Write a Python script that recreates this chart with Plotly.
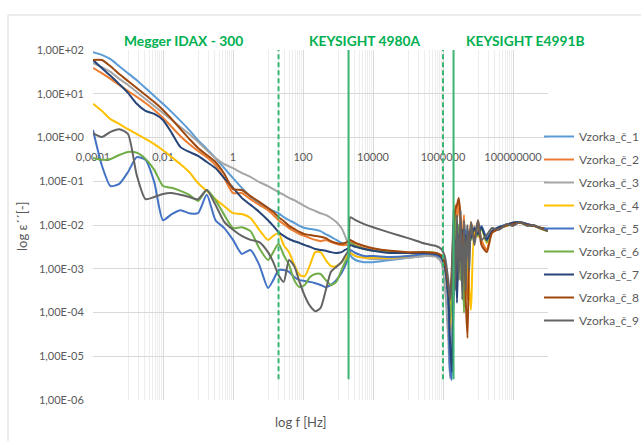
import numpy as np
import plotly.graph_objects as go

lg_freq = [-4, -3.75, -3.5, -3.25, -3, -2.75, -2.5, -2.25, -2, -1.75, -1.5, -1.25, -1, -0.75,
           -0.5, -0.25, 0, 0.25, 0.5, 0.75, 1, 1.15, 1.3,
           1.45, 1.6, 1.75, 1.9, 2.05, 2.2, 2.35, 2.5, 2.65, 2.8, 2.95, 3.1, 3.2, 3.3,
           3.35, 3.5, 3.75, 4, 4.5, 5, 5.5, 5.8, 5.95, 6.05, 6.15,
           6.2, 6.25, 6.3, 6.35, 6.4, 6.45, 6.5, 6.55, 6.6, 6.65, 6.7, 6.75, 6.8, 6.9, 7.0, 7.1,
           7.25, 7.4, 7.6, 7.8, 8.0, 8.2, 8.4, 8.6, 8.8, 9.0]

series_names = ["Vzorka_č_1", "Vzorka_č_2", "Vzorka_č_3", "Vzorka_č_4", "Vzorka_č_5",
                "Vzorka_č_6", "Vzorka_č_7", "Vzorka_č_8", "Vzorka_č_9"]
series_colors = ["#5B9BD5", "#ED7D31", "#A5A5A5", "#FFC000", "#4472C4",
                 "#70AD47", "#264478", "#9E480E", "#636363"]

# log10 of eps'', one list per sample
lg_eps_1 = [1.95, 1.89, 1.79, 1.63, 1.47, 1.31, 1.13, 0.95, 0.77, 0.58, 0.38, 0.17, -0.06, -0.26,
            -0.47, -0.70, -0.93, -1.15, -1.36, -1.50, -1.61, -1.68, -1.73,
            -1.82, -1.89, -1.95, -2.02, -2.07, -2.09, -2.11, -2.14, -2.21, -2.27, -2.34, -2.41, -2.43, -2.48,
            -2.69, -2.80, -2.85, -2.85, -2.80, -2.75, -2.71, -2.71, -2.78, -2.98, -3.71,
            -4.40, -3.71, -2.57, -2.00, -2.46, -2.11, -2.57, -2.23, -2.53, -2.16, -2.39, -2.11, -2.25, -2.07,
            -2.21, -2.05, -2.30, -2.14, -2.05, -2.00, -1.95, -1.93, -1.98, -2.02, -2.07, -2.11]
lg_eps_2 = [1.59, 1.47, 1.34, 1.20, 1.06, 0.93, 0.79, 0.63, 0.45, 0.24, 0.03, -0.15, -0.31, -0.45,
            -0.63, -0.93, -1.27, -1.27, -1.41, -1.54, -1.66, -1.77, -1.89,
            -1.98, -2.07, -2.14, -2.21, -2.25, -2.30, -2.34, -2.37, -2.34, -2.39, -2.43, -2.46, -2.46, -2.43,
            -2.39, -2.46, -2.53, -2.57, -2.62, -2.64, -2.62, -2.64, -2.71, -2.89, -3.44,
            -3.94, -3.26, -2.23, -1.54, -1.89, -1.43, -2.00, -2.34, -1.77, -3.03, -3.71, -2.34, -1.93, -2.23,
            -1.89, -2.34, -2.57, -2.16, -2.07, -2.00, -1.95, -1.93, -1.98, -2.02, -2.07, -2.11]
lg_eps_3 = [1.70, 1.61, 1.50, 1.34, 1.20, 1.04, 0.88, 0.72, 0.56, 0.40, 0.24, 0.08, -0.10, -0.29,
            -0.47, -0.61, -0.70, -0.81, -0.90, -1.02, -1.11, -1.18, -1.25,
            -1.31, -1.38, -1.43, -1.50, -1.57, -1.63, -1.68, -1.73, -1.77, -1.84, -1.93, -2.07, -2.25, -2.46,
            -2.62, -2.71, -2.75, -2.78, -2.78, -2.75, -2.71, -2.73, -2.85, -3.37, -4.63,
            -5.50, -4.40, -2.80, -1.77, -2.34, -2.00, -2.69, -2.11, -2.46, -2.00, -2.34, -2.11, -2.25, -2.02,
            -2.16, -2.07, -2.34, -2.16, -2.07, -2.02, -1.98, -1.95, -2.00, -2.02, -2.07, -2.14]
lg_eps_4 = [0.77, 0.61, 0.42, 0.31, 0.19, 0.08, -0.03, -0.15, -0.29, -0.45, -0.61, -0.79, -1.04, -1.22,
            -1.41, -1.57, -1.73, -1.75, -1.84, -2.11, -2.34, -2.25, -2.18,
            -2.46, -2.62, -2.91, -3.14, -3.17, -2.91, -2.62, -2.62, -2.80, -2.94, -2.94, -2.85, -2.75, -2.69,
            -2.64, -2.71, -2.75, -2.75, -2.75, -2.71, -2.66, -2.69, -2.75, -2.94, -3.71,
            -4.40, -3.49, -2.34, -1.89, -2.80, -2.11, -3.03, -2.34, -2.91, -2.23, -2.80, -3.49, -3.94, -2.16,
            -2.27, -2.07, -2.41, -2.16, -2.07, -2.02, -1.98, -1.95, -2.00, -2.02, -2.09, -2.14]
lg_eps_5 = [0.17, -0.63, -1.11, -1.06, -0.79, -0.45, -0.51, -1.02, -1.89, -1.75, -1.66, -1.73, -1.73, -1.31,
            -1.89, -2.07, -2.34, -2.66, -2.57, -2.91, -3.44, -3.26, -3.03,
            -3.03, -3.07, -3.19, -3.26, -3.28, -3.30, -3.33, -3.37, -3.42, -3.37, -3.26, -3.10, -2.94, -2.75,
            -2.57, -2.64, -2.71, -2.71, -2.73, -2.71, -2.66, -2.69, -2.75, -2.98, -3.83,
            -5.31, -5.54, -3.26, -1.89, -2.57, -2.11, -2.80, -2.23, -2.57, -2.11, -2.46, -2.16, -2.30, -2.07,
            -2.23, -2.02, -2.30, -2.14, -2.05, -2.00, -1.95, -1.93, -1.98, -2.02, -2.07, -2.11]
lg_eps_6 = [-0.47, -0.51, -0.49, -0.40, -0.33, -0.35, -0.49, -0.74, -1.11, -1.15, -1.22, -1.31, -1.45, -1.20,
            -1.43, -1.77, -2.07, -2.05, -2.14, -2.53, -2.80, -2.62, -2.43,
            -2.69, -2.91, -3.26, -3.42, -3.37, -3.19, -3.12, -3.12, -3.26, -3.37, -3.30, -3.03, -2.85, -2.71,
            -2.41, -2.48, -2.55, -2.59, -2.62, -2.64, -2.62, -2.64, -2.71, -2.89, -3.49,
            -4.17, -3.71, -2.57, -1.77, -3.03, -2.00, -3.26, -2.57, -4.01, -2.34, -2.69, -2.23, -2.34, -2.11,
            -2.25, -2.07, -2.39, -2.16, -2.07, -2.02, -1.98, -1.95, -2.00, -2.02, -2.07, -2.14]
lg_eps_7 = [1.77, 1.59, 1.41, 1.22, 1.02, 0.77, 0.61, 0.54, 0.40, 0.10, -0.22, -0.33, -0.42, -0.56,
            -0.70, -0.93, -1.15, -1.38, -1.54, -1.70, -1.89, -2.02, -2.16,
            -2.25, -2.32, -2.37, -2.41, -2.46, -2.50, -2.55, -2.57, -2.59, -2.62, -2.64, -2.62, -2.57, -2.53,
            -2.46, -2.50, -2.55, -2.59, -2.64, -2.64, -2.64, -2.66, -2.73, -2.94, -3.60,
            -4.63, -5.36, -3.71, -2.34, -3.78, -2.23, -2.80, -2.11, -2.57, -2.23, -2.46, -2.16, -2.30, -2.07,
            -2.21, -2.05, -2.34, -2.14, -2.05, -2.00, -1.95, -1.93, -1.98, -2.02, -2.07, -2.11]
lg_eps_8 = [1.77, 1.77, 1.63, 1.45, 1.29, 1.13, 0.97, 0.81, 0.63, 0.42, 0.19, -0.03, -0.24, -0.40,
            -0.56, -0.83, -1.18, -1.20, -1.34, -1.47, -1.61, -1.70, -1.82,
            -1.91, -2.02, -2.09, -2.16, -2.21, -2.23, -2.25, -2.27, -2.30, -2.37, -2.41, -2.43, -2.41, -2.37,
            -2.34, -2.41, -2.48, -2.53, -2.59, -2.62, -2.62, -2.64, -2.69, -2.85, -3.37,
            -3.71, -3.03, -2.11, -1.66, -1.54, -1.38, -1.77, -2.57, -2.11, -3.71, -4.58, -2.57, -2.00, -2.34,
            -1.93, -2.46, -2.62, -2.18, -2.09, -2.02, -1.98, -1.95, -2.00, -2.02, -2.07, -2.11]
lg_eps_9 = [0.10, 0.01, 0.13, 0.19, 0.08, -0.86, -1.41, -1.36, -1.29, -1.27, -1.31, -1.36, -1.41, -1.20,
            -1.54, -1.93, -2.11, -2.25, -2.34, -2.39, -2.62, -2.85, -3.14,
            -3.30, -2.80, -2.94, -3.30, -3.62, -3.85, -3.97, -3.90, -3.49, -3.07, -2.96, -2.85, -2.71, -2.57,
            -1.82, -1.89, -1.98, -2.05, -2.18, -2.30, -2.43, -2.48, -2.55, -2.71, -3.26,
            -3.71, -3.26, -1.66, -3.49, -1.77, -3.26, -1.66, -3.71, -1.89, -3.49, -2.00, -3.03, -1.93, -2.46,
            -1.89, -2.34, -2.23, -2.07, -2.11, -1.98, -2.02, -1.93, -2.02, -2.00, -2.09, -2.14]

all_lg_eps = [lg_eps_1, lg_eps_2, lg_eps_3, lg_eps_4, lg_eps_5, lg_eps_6, lg_eps_7, lg_eps_8, lg_eps_9]

# instrument boundary markers [Hz]
instr_bounds_hz = [20, 2000, 1e6, 2e6]
instr_dash = ["5px,3px", "solid", "5px,3px", "solid"]
instr_line_eps = [3e-6, 100]
instr_labels = ["Megger IDAX - 300", "KEYSIGHT 4980A", "KEYSIGHT E4991B"]

x_tickvals = [1e-4, 1e-2, 1, 1e2, 1e4, 1e6, 1e8]
x_ticktext = ["0,0001", "0,01", "1", "100", "10000", "1000000", "100000000"]
y_tickvals = [1e-6, 1e-5, 1e-4, 1e-3, 1e-2, 1e-1, 1, 1e1, 1e2]
y_ticktext = ["1,00E-06", "1,00E-05", "1,00E-04", "1,00E-03", "1,00E-02",
              "1,00E-01", "1,00E+00", "1,00E+01", "1,00E+02"]

FONT = "Lato, Open Sans, sans-serif"
GRAY = "#595959"
GREEN_TXT = "#00B050"
GREEN_LINE = "#3BB573"

freq = 10 ** np.array(lg_freq)

fig = go.Figure()
for name, col, lg in zip(series_names, series_colors, all_lg_eps):
    fig.add_trace(go.Scatter(
        x=freq, y=10 ** np.array(lg), mode="lines", name=name, legendgroup=name,
        line=dict(color=col, width=2, shape="spline", smoothing=0.6)))

for fb, dsh in zip(instr_bounds_hz, instr_dash):
    fig.add_trace(go.Scatter(
        x=[fb, fb], y=instr_line_eps, mode="lines", showlegend=False, hoverinfo="skip",
        line=dict(color=GREEN_LINE, width=2, dash=dsh)))

minor_vals = [k * 10.0 ** e for e in (-3, -1, 1, 3, 5, 7) for k in range(1, 10)] + [1e9]

W, H = 641, 441
L, R, T, B = 93, 93, 50, 41
pw, ph = W - L - R, H - T - B


def px_x(p):
    return (p - L) / pw


def px_y(p):
    return (H - B - p) / ph


fig.update_layout(
    width=W, height=H, autosize=False,
    margin=dict(l=L, r=R, t=T, b=B, pad=0, autoexpand=False),
    paper_bgcolor="white", plot_bgcolor="white",
    font=dict(family=FONT, size=11, color=GRAY),
    showlegend=True,
    legend=dict(x=px_x(539), y=px_y(122), xanchor="left", yanchor="top",
                traceorder="grouped", tracegroupgap=4,
                font=dict(family=FONT, size=12, color=GRAY),
                bgcolor="rgba(0,0,0,0)", itemwidth=30),
    xaxis=dict(type="log", range=[-4, 9], anchor="free", position=0.75,
               tickmode="array", tickvals=x_tickvals, ticktext=x_ticktext,
               showgrid=True, gridcolor="#D9D9D9", gridwidth=1,
               minor=dict(tickmode="array", tickvals=minor_vals, showgrid=True,
                          gridcolor="#EDEDED", gridwidth=1, ticks=""),
               showline=False, zeroline=False, layer="below traces",
               ticks="outside", ticklen=9, tickcolor="rgba(0,0,0,0)",
               tickfont=dict(family=FONT, size=11, color=GRAY)),
    yaxis=dict(type="log", range=[-6, 2], tickmode="array",
               tickvals=y_tickvals, ticktext=y_ticktext,
               showgrid=True, gridcolor="#D9D9D9", gridwidth=1,
               showline=False, zeroline=False,
               ticks="outside", ticklen=6, tickcolor="rgba(0,0,0,0)",
               tickfont=dict(family=FONT, size=11, color=GRAY)),
    shapes=[dict(type="rect", xref="paper", yref="paper",
                 x0=px_x(8), x1=px_x(800), y0=px_y(15), y1=px_y(600),
                 line=dict(color="#D9D9D9", width=1), layer="below")],
)

label_px = [183, 364, 525]
for txt, px in zip(instr_labels, label_px):
    fig.add_annotation(text="<b>%s</b>" % txt, x=px_x(px), y=px_y(40), xref="paper", yref="paper",
                       showarrow=False, xanchor="center", yanchor="middle",
                       font=dict(family=FONT, size=13.8, color=GREEN_TXT))

fig.add_annotation(text="log ε´´[-]", x=px_x(22), y=px_y(226), xref="paper", yref="paper",
                   showarrow=False, textangle=-90, xanchor="center", yanchor="middle",
                   font=dict(family=FONT, size=13, color=GRAY))
fig.add_annotation(text="log f [Hz]", x=px_x(300), y=px_y(422), xref="paper", yref="paper",
                   showarrow=False, xanchor="center", yanchor="middle",
                   font=dict(family=FONT, size=13, color=GRAY))

fig.write_html("out.html",
               config=dict(responsive=False, displayModeBar=False),
               post_script="document.body.style.margin='0px';document.body.style.overflow='hidden';")
